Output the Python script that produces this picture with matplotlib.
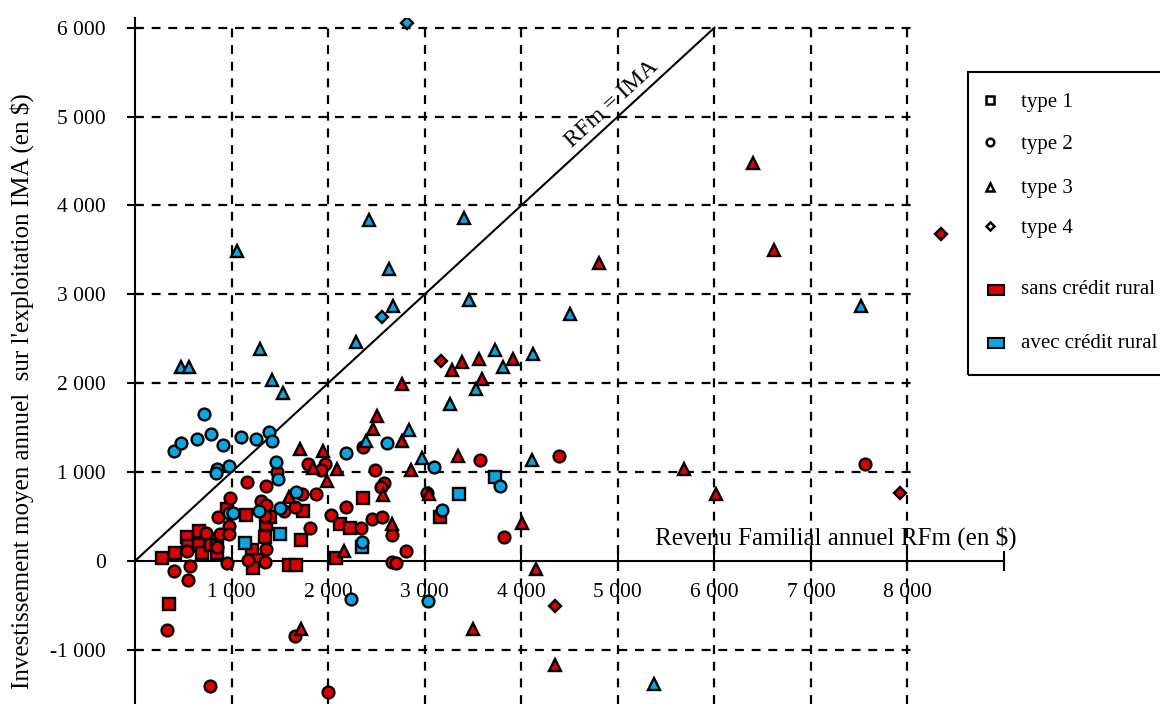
import matplotlib
matplotlib.use('Agg')
import matplotlib.pyplot as plt
from matplotlib.lines import Line2D
from matplotlib.patches import Rectangle

plt.rcParams['font.family'] = ['Liberation Serif', 'DejaVu Serif']
plt.rcParams['axes.unicode_minus'] = False

ROUGE = '#DC0000'
BLEU = '#0AA6E0'

# type 1 (carrés) - sans / avec crédit rural
t1_sans_x = [350, 280, 410, 540, 550, 660, 660, 690, 780, 790, 850, 850, 950, 1150, 1210,
             1260, 1220, 1350, 1360, 1400, 1590, 1670, 1740, 1720, 2080, 2120, 2230, 2360, 3160]
t1_sans_y = [-480, 30, 90, 270, 170, 340, 180, 90, 240, 180, 170, 90, 580, 520, 120,
             10, -80, 270, 420, 500, -50, -50, 560, 230, 30, 420, 370, 710, 490]
t1_avec_x = [1500, 1140, 2350, 3360, 3730]
t1_avec_y = [300, 200, 160, 750, 940]

# type 2 (ronds)
t2_sans_x = [1160, 980, 860, 1310, 1360, 1360, 970, 880, 970, 740, 540, 850, 950, 570, 400,
             550, 1350, 1540, 1660, 1870, 1730, 1810, 2190, 2030, 1360, 1170, 1350, 1470, 1790,
             1970, 1930, 2360, 2490, 2580, 2550, 2450, 2560, 2340, 2660, 2660, 2810, 2700,
             3570, 4390, 3020, 3820, 330, 780, 1660, 2000, 7560]
t2_sans_y = [890, 710, 490, 670, 840, 630, 390, 300, 300, 310, 110, 160, -20, -60, -110,
             -210, 510, 560, 610, 750, 750, 370, 610, 520, 130, 10, -10, 1000, 1090,
             1090, 1020, 1280, 1020, 880, 830, 470, 490, 370, 290, -10, 110, -20,
             1140, 1180, 760, 270, -780, -1410, -840, -1480, 1090]
t2_avec_x = [400, 480, 640, 710, 790, 910, 850, 840, 970, 1100, 1250, 1390, 1420, 1460,
             1480, 1670, 1280, 1500, 970, 1020, 2190, 2610, 2350, 3100, 3180, 3780, 2240, 3030]
t2_avec_y = [1240, 1330, 1370, 1650, 1430, 1310, 1040, 990, 1070, 1400, 1370, 1450, 1350, 1110,
             920, 780, 560, 600, 540, 540, 1220, 1330, 210, 1060, 570, 840, -430, -450]

# type 3 (triangles)
t3_sans_x = [6400, 6620, 4810, 2770, 3280, 3390, 3560, 3920, 3590, 1710, 1950, 2090, 1840,
             1990, 1600, 2160, 2510, 2470, 2570, 2660, 2770, 3350, 2860, 3050, 4010, 4150,
             1720, 3500, 4350, 5690, 6020]
t3_sans_y = [4480, 3500, 3350, 1990, 2150, 2240, 2270, 2270, 2050, 1260, 1240, 1040, 1050,
             900, 720, 110, 1630, 1490, 740, 420, 1350, 1180, 1020, 750, 430, -90,
             -770, -770, -1170, 1040, 750]
t3_avec_x = [480, 560, 1060, 1290, 1420, 1530, 2420, 2630, 2670, 2290, 3410, 3460, 4500,
             3730, 3810, 4120, 3530, 3260, 7520, 2390, 2840, 2970, 4110, 5380]
t3_avec_y = [2180, 2180, 3490, 2390, 2040, 1890, 3840, 3280, 2870, 2460, 3860, 2940, 2780,
             2370, 2180, 2330, 1930, 1770, 2870, 1350, 1470, 1160, 1140, -1380]

# type 4 (losanges)
t4_sans_x = [3170, 4350, 7920, 8350]
t4_sans_y = [2250, -510, 770, 3680]
t4_avec_x = [2820, 2560]
t4_avec_y = [6050, 2740]

ticks_x = list(range(1000, 9001, 1000))
ticks_y = list(range(-1000, 6001, 1000))


def milliers(v):
    return '{:,}'.format(v).replace(',', ' ')


fig = plt.figure(figsize=(11.6, 7.04), dpi=100)
ax = fig.add_axes([135 / 1160, 0, 869 / 1160, 686 / 704])
ax.set_xlim(0, 9000)
ax.set_ylim(-1610, 6110)

# quadrillage en tirets
tirets = (0, (4, 3.5))
for v in ticks_x[:-1]:
    ax.vlines(v, -1610, 6000, colors='k', linestyles=tirets, lw=1.6, zorder=1)
for v in ticks_y:
    if v != 0:
        ax.hlines(v, 0, 8070, colors='k', linestyles=tirets, lw=1.6, zorder=1)

# droite RFm = IMA
ax.plot([0, 6000], [0, 6000], color='k', lw=1.5, zorder=2)
ax.text(4937, 5141, 'RFm = IMA', rotation=42.6, rotation_mode='anchor',
        ha='center', va='center', fontsize=17)

style = dict(ls='none', mec='k', mew=1.7, zorder=3)
ax.plot(t1_sans_x, t1_sans_y, 's', ms=8, mfc=ROUGE, **style)
ax.plot(t2_sans_x, t2_sans_y, 'o', ms=8.5, mfc=ROUGE, **style)
ax.plot(t3_sans_x, t3_sans_y, '^', ms=9, mfc=ROUGE, **style)
ax.plot(t4_sans_x, t4_sans_y, 'D', ms=6.5, mfc=ROUGE, **style)
ax.plot(t1_avec_x, t1_avec_y, 's', ms=8, mfc=BLEU, **style)
ax.plot(t2_avec_x, t2_avec_y, 'o', ms=8.5, mfc=BLEU, **style)
ax.plot(t3_avec_x, t3_avec_y, '^', ms=9, mfc=BLEU, **style)
ax.plot(t4_avec_x, t4_avec_y, 'D', ms=6.5, mfc=BLEU, **style)

# axes
for s in ['top', 'right']:
    ax.spines[s].set_visible(False)
ax.spines['bottom'].set_position(('data', 0))
ax.spines['left'].set_linewidth(1.5)
ax.spines['bottom'].set_linewidth(1.5)

ax.set_xticks(ticks_x)
ax.set_xticklabels([milliers(v) for v in ticks_x[:-1]] + [''])
ax.set_yticks(ticks_y)
ax.set_yticklabels([milliers(v) for v in ticks_y])
ax.tick_params(axis='x', direction='inout', length=14, width=1.5, pad=9, labelsize=15.5)
ax.tick_params(axis='y', direction='inout', length=12, width=1.5, pad=15, labelsize=15.5)

ax.text(5382, 259, 'Revenu Familial annuel RFm (en $)', ha='left', va='center', fontsize=18)
fig.text(22 / 1160, 1 - 391 / 704, "Investissement moyen annuel  sur l'exploitation IMA (en $)",
         rotation=90, ha='center', va='center', fontsize=18)

# légende
W, H = 1160, 704
fig.add_artist(Rectangle((968 / W, 1 - 375 / H), 0.25, 303 / H, transform=fig.transFigure,
                         fill=False, lw=1.5, ec='k'))
entrees = [('s', 100, 'type 1'), ('o', 142, 'type 2'), ('^', 187, 'type 3'), ('D', 226, 'type 4')]
for m, yp, lab in entrees:
    fig.add_artist(Line2D([990 / W], [1 - yp / H], marker=m, ms=5.5 if m != 'D' else 4.5,
                          mfc='white', mec='k', mew=1.8, transform=fig.transFigure))
    fig.text(1021 / W, 1 - (yp + 2) / H, lab, va='center', fontsize=15)
for col, yp, lab in [(ROUGE, 290, 'sans crédit rural'), (BLEU, 343, 'avec crédit rural')]:
    fig.add_artist(Rectangle((988 / W, 1 - (yp + 5) / H), 16 / W, 10 / H, transform=fig.transFigure,
                             fc=col, ec='k', lw=1.5))
    fig.text(1021 / W, 1 - yp / H, lab, va='center', fontsize=15)

fig.savefig('out.png', dpi=100)
